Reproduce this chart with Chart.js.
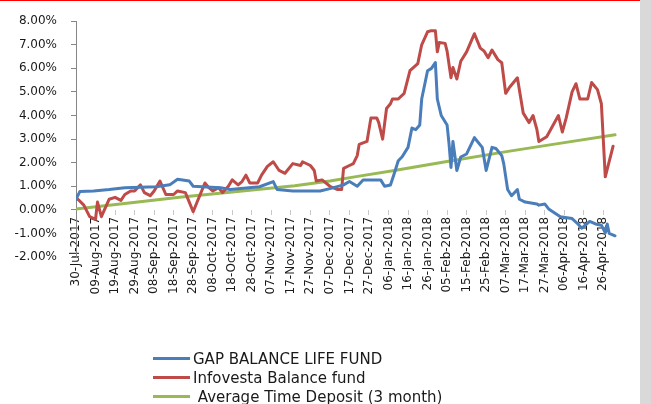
<!DOCTYPE html>
<html><head><meta charset="utf-8">
<script src="https://cdn.jsdelivr.net/npm/chart.js@4.4.0/dist/chart.umd.min.js"></script>
<style>
html,body{margin:0;padding:0;background:#fff;}
#wrap{position:relative;width:651px;height:404px;overflow:hidden;background:#fff;}
#topline{position:absolute;left:0;top:0;width:640px;height:1px;background:#ff0000;}
#strip{position:absolute;left:640px;top:0;width:11px;height:404px;background:#d9d9d9;}
#legend{position:absolute;left:153px;top:349px;font-family:"DejaVu Sans";font-size:15px;color:#1a1a1a;}
.item{display:flex;align-items:center;height:19px;white-space:pre;}
.swatch{width:37px;height:3px;margin-right:3px;flex:none;}
canvas{position:absolute;left:0;top:0;}
</style></head>
<body>
<div id="wrap">
<canvas id="c" width="651" height="404"></canvas>
<div id="topline"></div><div id="strip"></div>
<div id="legend"></div>
</div>
<script>
// x positions are days since 30-Jul-2017; values are returns in %
const xTickLabels = ['30-Jul-2017','09-Aug-2017','19-Aug-2017','29-Aug-2017','08-Sep-2017','18-Sep-2017','28-Sep-2017','08-Oct-2017','18-Oct-2017','28-Oct-2017','07-Nov-2017','17-Nov-2017','27-Nov-2017','07-Dec-2017','17-Dec-2017','27-Dec-2017','06-Jan-2018','16-Jan-2018','26-Jan-2018','05-Feb-2018','15-Feb-2018','25-Feb-2018','07-Mar-2018','17-Mar-2018','27-Mar-2018','06-Apr-2018','16-Apr-2018','26-Apr-2018'];
const yTickValues = [-2,-1,0,1,2,3,4,5,6,7,8];

const seriesNames = ['GAP BALANCE LIFE FUND', 'Infovesta Balance fund', ' Average Time Deposit (3 month)'];

const gapDays = [0,2,9,17,25,41,48,52,58,60,74,79,94,101,103,111,125,130,137,140,144,147,156,158,161,163,165,167,170,172,174,176,177,180,182,184,185,187,190,191,192,193,195,197,200,204,208,210,213,215,218,219,221,223,226,227,230,236,237,240,242,248,254,257,259,263,266,269,271,272,273,276];
const gapValues = [0.45,0.78,0.80,0.86,0.94,0.98,1.06,1.30,1.22,1.00,0.94,0.86,0.98,1.20,0.86,0.80,0.80,0.90,1.06,1.20,1.00,1.27,1.27,1.00,1.05,1.55,2.08,2.25,2.65,3.47,3.40,3.60,4.70,5.90,6.00,6.25,4.70,4.00,3.60,2.80,1.80,2.90,1.67,2.24,2.37,3.06,2.65,1.67,2.65,2.60,2.30,1.96,0.86,0.60,0.86,0.45,0.33,0.25,0.20,0.25,0.04,-0.29,-0.37,-0.60,-0.78,-0.49,-0.60,-0.65,-0.98,-0.60,-1.00,-1.10];

const infoDays = [0,1,4,7,10,11,13,17,20,23,25,28,30,33,35,38,40,43,46,50,52,56,58,60,62,63,66,68,70,73,75,78,80,83,85,87,89,93,95,98,101,104,107,111,115,116,120,122,123,126,130,134,136,137,140,142,144,145,149,151,154,155,157,159,161,162,165,168,171,175,177,180,182,184,185,186,189,190,192,193,195,197,200,204,207,209,211,213,216,218,220,222,226,229,232,234,236,237,241,247,249,251,254,256,258,262,264,267,269,271,275];
const infoValues = [0.45,0.45,0.20,-0.29,-0.40,0.33,-0.29,0.45,0.53,0.40,0.65,0.80,0.80,1.06,0.73,0.60,0.80,1.22,0.65,0.65,0.80,0.73,0.33,-0.08,0.33,0.53,1.14,0.94,0.80,0.94,0.73,1.00,1.27,1.06,1.20,1.47,1.14,1.14,1.47,1.84,2.04,1.67,1.55,1.96,1.88,2.04,1.88,1.67,1.22,1.27,1.00,0.86,0.86,1.76,1.88,1.96,2.30,2.78,2.90,3.90,3.90,3.70,3.00,4.30,4.50,4.70,4.70,4.94,5.90,6.20,7.00,7.55,7.60,7.60,6.70,7.10,7.06,6.73,5.60,6.04,5.55,6.30,6.70,7.47,6.86,6.73,6.45,6.78,6.37,6.24,4.94,5.20,5.60,4.10,3.70,4.00,3.40,2.90,3.10,4.00,3.30,3.90,5.00,5.35,4.70,4.70,5.40,5.10,4.50,1.40,2.70];

const depositDays = [0,26,53,80,112,130,145,163,190,222,250,276];
const depositValues = [0.04,0.28,0.53,0.76,1.02,1.22,1.43,1.67,2.05,2.49,2.85,3.18];

const seriesColors = ['#4A7EBB', '#BE4B48', '#98B954'];

function pts(days, vals) { return days.map((d, i) => ({x: d, y: vals[i]})); }

const datasets = [
  {label: seriesNames[0], data: pts(gapDays, gapValues), borderColor: seriesColors[0]},
  {label: seriesNames[1], data: pts(infoDays, infoValues), borderColor: seriesColors[1]},
  {label: seriesNames[2], data: pts(depositDays, depositValues), borderColor: seriesColors[2]}
].map(d => Object.assign(d, {borderWidth: 3, pointRadius: 0, tension: 0, borderJoinStyle: 'round', borderCapStyle: 'round', fill: false}));

const chart = new Chart(document.getElementById('c'), {
  type: 'line',
  data: {datasets},
  options: {
    responsive: false,
    animation: false,
    devicePixelRatio: 1,
    layout: {padding: {left: 0, top: 12, right: 34, bottom: 147}},
    plugins: {legend: {display: false}, tooltip: {enabled: false}},
    scales: {
      x: {
        type: 'linear',
        position: {y: 0},
        min: 0, max: 277,
        afterBuildTicks: s => { s.ticks = xTickLabels.map((_, i) => ({value: i * 10})); },
        ticks: {
          autoSkip: false, minRotation: 90, maxRotation: 90, padding: 2,
          color: '#1a1a1a', font: {family: 'DejaVu Sans', size: 12},
          callback: v => xTickLabels[Math.round(v / 10)]
        },
        grid: {drawOnChartArea: false, drawTicks: true, tickLength: 5, color: '#c8c8c8'},
        border: {display: false}
      },
      y: {
        min: -2, max: 8,
        afterBuildTicks: s => { s.ticks = yTickValues.map(v => ({value: v})); },
        afterFit: s => { s.width = 76; },
        ticks: {
          padding: 14, color: '#1a1a1a', font: {family: 'DejaVu Sans', size: 12},
          callback: v => v.toFixed(2) + '%'
        },
        grid: {drawOnChartArea: false, drawTicks: true, tickLength: 5, color: '#868686'},
        border: {display: true, color: '#868686', width: 1}
      }
    }
  }
});

const leg = document.getElementById('legend');
chart.data.datasets.forEach(ds => {
  const row = document.createElement('div'); row.className = 'item';
  const sw = document.createElement('span'); sw.className = 'swatch'; sw.style.background = ds.borderColor;
  const tx = document.createElement('span'); tx.textContent = ds.label;
  row.appendChild(sw); row.appendChild(tx); leg.appendChild(row);
});
</script>
</body></html>
